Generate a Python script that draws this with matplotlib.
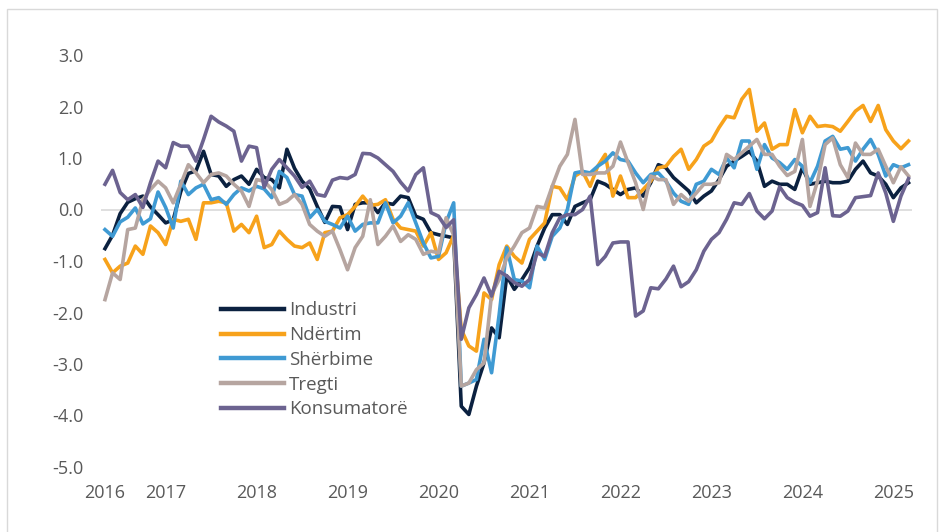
import numpy as np
import matplotlib
matplotlib.use("Agg")
from matplotlib import pyplot as plt
from matplotlib.patches import Rectangle

# monthly data, May 2016 - Mar 2025
industri = [-0.76, -0.50, -0.08, 0.14, 0.21, 0.26, 0.05, -0.10,
            -0.26, -0.20, 0.35, 0.70, 0.75, 1.13, 0.68, 0.65, 0.45, 0.58, 0.65, 0.49,
            0.78, 0.62, 0.58, 0.42, 1.17, 0.80, 0.55, 0.40, 0.06, -0.25, 0.06, 0.05,
            -0.39, 0.10, 0.13, 0.13, -0.06, 0.13, 0.10, 0.26, 0.23, -0.13, -0.19, -0.45,
            -0.49, -0.52, -0.55, -3.82, -3.98, -3.43, -2.98, -2.30, -2.49, -1.29, -1.55, -1.36,
            -1.13, -0.71, -0.36, -0.10, -0.10, -0.29, 0.06, 0.13, 0.19, 0.55, 0.49, 0.39,
            0.29, 0.39, 0.42, 0.26, 0.52, 0.87, 0.81, 0.62, 0.49, 0.36, 0.13, 0.26,
            0.36, 0.58, 0.84, 0.94, 1.03, 1.13, 0.94, 0.45, 0.55, 0.49, 0.49, 0.39,
            0.81, 0.49, 0.52, 0.55, 0.52, 0.52, 0.55, 0.78, 0.94, 0.71, 0.65, 0.49,
            0.23, 0.42, 0.52]
ndertim = [-0.97, -1.23, -1.10, -1.04, -0.71, -0.87, -0.32, -0.45,
           -0.68, -0.19, -0.23, -0.19, -0.58, 0.13, 0.13, 0.16, 0.13, -0.42, -0.29, -0.45,
           -0.13, -0.74, -0.68, -0.42, -0.58, -0.71, -0.74, -0.65, -0.97, -0.45, -0.42, -0.16,
           -0.10, 0.06, 0.26, 0.08, 0.10, 0.19, -0.19, -0.36, -0.39, -0.42, -0.71, -0.45,
           -0.97, -0.84, -0.50, -2.33, -2.65, -2.75, -1.62, -1.75, -1.07, -0.71, -0.91, -1.04,
           -0.58, -0.42, -0.26, 0.45, 0.42, 0.19, 0.65, 0.74, 0.45, 0.84, 1.07, 0.26,
           0.65, 0.23, 0.23, 0.39, 0.55, 0.81, 0.84, 1.03, 1.17, 0.78, 0.97, 1.23,
           1.33, 1.59, 1.81, 1.78, 2.14, 2.33, 1.52, 1.68, 1.17, 1.26, 1.26, 1.94,
           1.49, 1.81, 1.61, 1.63, 1.61, 1.52, 1.71, 1.91, 2.02, 1.71, 2.02, 1.55,
           1.33, 1.18, 1.33]
sherbime = [-0.39, -0.52, -0.24, -0.15, 0.03, -0.28, -0.18, 0.34,
            0.04, -0.36, 0.55, 0.29, 0.42, 0.49, 0.19, 0.23, 0.10, 0.29, 0.42, 0.36,
            0.45, 0.40, 0.23, 0.74, 0.62, 0.29, 0.26, -0.16, 0.00, -0.23, -0.29, -0.36,
            -0.13, -0.42, -0.29, -0.26, -0.26, 0.13, -0.26, -0.13, 0.13, -0.26, -0.65, -0.94,
            -0.91, -0.25, 0.13, -3.43, -3.37, -3.30, -2.52, -3.17, -2.04, -0.74, -1.36, -1.39,
            -1.52, -0.71, -0.97, -0.52, -0.36, 0.00, 0.71, 0.74, 0.71, 0.84, 0.94, 1.10,
            0.97, 0.94, 0.71, 0.52, 0.68, 0.71, 0.55, 0.32, 0.16, 0.10, 0.49, 0.55,
            0.78, 0.68, 1.00, 0.81, 1.33, 1.33, 0.78, 1.26, 1.00, 0.91, 0.78, 0.97,
            0.84, 0.52, 0.84, 1.33, 1.42, 1.17, 1.20, 0.94, 1.17, 1.36, 1.07, 0.65,
            0.87, 0.81, 0.87]
tregti = [-1.75, -1.23, -1.36, -0.39, -0.36, 0.19, 0.39, 0.55,
          0.42, 0.13, 0.49, 0.87, 0.71, 0.52, 0.68, 0.71, 0.65, 0.49, 0.36, 0.06,
          0.58, 0.55, 0.39, 0.10, 0.16, 0.29, 0.10, -0.29, -0.42, -0.52, -0.42, -0.78,
          -1.17, -0.74, -0.52, 0.19, -0.68, -0.52, -0.32, -0.62, -0.49, -0.58, -0.87, -0.81,
          -0.84, -0.16, -0.50, -3.43, -3.37, -3.11, -2.98, -1.65, -1.36, -0.94, -0.71, -0.45,
          -0.36, 0.06, 0.03, 0.45, 0.84, 1.07, 1.75, 0.68, 0.68, 0.71, 0.71, 0.84,
          1.31, 0.91, 0.52, 0.00, 0.65, 0.58, 0.58, 0.10, 0.29, 0.16, 0.32, 0.49,
          0.49, 0.52, 1.07, 0.97, 1.10, 1.23, 1.36, 1.07, 1.07, 0.84, 0.66, 0.74,
          1.36, 0.06, 0.55, 1.26, 1.39, 0.87, 0.62, 1.29, 1.07, 1.07, 1.17, 0.84,
          0.52, 0.83, 0.65]
konsumatore = [0.49, 0.76, 0.33, 0.19, 0.29, 0.04, 0.52, 0.94,
               0.81, 1.30, 1.23, 1.23, 0.94, 1.36, 1.81, 1.70, 1.62, 1.52, 0.94, 1.23,
               1.20, 0.43, 0.78, 0.97, 0.81, 0.65, 0.43, 0.55, 0.29, 0.26, 0.57, 0.62,
               0.60, 0.68, 1.09, 1.08, 1.00, 0.87, 0.74, 0.53, 0.36, 0.68, 0.81, -0.06,
               -0.13, -0.35, -0.20, -2.52, -1.91, -1.65, -1.33, -1.68, -1.20, -1.29, -1.42, -1.49,
               -1.36, -0.84, -0.91, -0.45, -0.16, -0.10, -0.10, 0.00, 0.26, -1.07, -0.91, -0.65,
               -0.63, -0.63, -2.07, -1.97, -1.52, -1.54, -1.35, -1.10, -1.50, -1.40, -1.17, -0.81,
               -0.58, -0.45, -0.19, 0.13, 0.10, 0.31, -0.03, -0.18, -0.03, 0.44, 0.23, 0.14,
               0.08, -0.13, -0.06, 0.81, -0.12, -0.13, -0.03, 0.23, 0.25, 0.27, 0.71, 0.32,
               -0.23, 0.26, 0.60]

series_names = ["Industri", "Ndërtim", "Shërbime", "Tregti", "Konsumatorë"]
year_labels = ["2016", "2017", "2018", "2019", "2020", "2021", "2022", "2023", "2024", "2025"]
year_pos = [0, 8, 20, 32, 44, 56, 68, 80, 92, 104]  # month index of each label
y_ticks = [-5.0, -4.0, -3.0, -2.0, -1.0, 0.0, 1.0, 2.0, 3.0]

colors = ["#0b2140", "#f7a21b", "#3f9ad3", "#b6a5a0", "#6c6390"]

plt.rcParams['font.family'] = ['Open Sans', 'DejaVu Sans']
txt_color = "#595959"

fig = plt.figure(figsize=(9.39, 5.32), dpi=100)
W, H = 939, 532
ax = fig.add_axes([101.2 / W, 65 / H, 811.1 / W, 412 / H])

x = np.arange(len(industri))
data = [industri, ndertim, sherbime, tregti, konsumatore]
for vals, name, c in zip(data, series_names, colors):
    ax.plot(x, vals, color=c, lw=2.6, label=name, solid_joinstyle="round")

ax.axhline(0, color="#d9d9d9", lw=1.2, zorder=0)
ax.set_xlim(-0.5, len(industri) - 0.5)
ax.set_ylim(-5.0, 3.0)
ax.set_yticks(y_ticks)
ax.set_yticklabels([f"{v:.1f}" for v in y_ticks])
ax.set_xticks(year_pos)
ax.set_xticklabels(year_labels)
ax.tick_params(axis="both", length=0, labelsize=13, colors=txt_color)
ax.tick_params(axis="y", pad=13)
ax.tick_params(axis="x", pad=12)
for s in ax.spines.values():
    s.set_visible(False)

leg = ax.legend(loc="upper left", bbox_to_anchor=(212 / W, 1 - 292 / H),
                bbox_transform=fig.transFigure, frameon=False, fontsize=13.5,
                handlelength=3.35, handletextpad=0.25, labelspacing=0.36, borderpad=0)
for t in leg.get_texts():
    t.set_color(txt_color)
for h in leg.get_lines():
    h.set_linewidth(3.2)

# outer frame of the chart box
fig.patches.append(Rectangle((7 / W, -0.05), (937 - 7) / W, 1.05 - 9 / H,
                             transform=fig.transFigure, fill=False,
                             edgecolor="#d9d9d9", lw=1))

fig.savefig("out.png", dpi=100)
